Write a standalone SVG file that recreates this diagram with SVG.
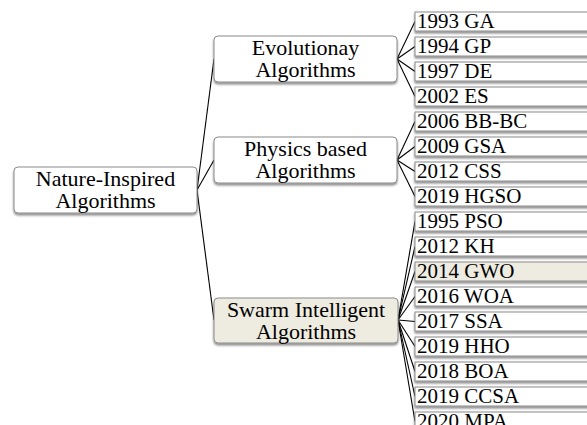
<svg xmlns="http://www.w3.org/2000/svg" width="587" height="425" viewBox="0 0 587 425">
<defs>
<filter id="sh" x="-10%" y="-20%" width="120%" height="160%">
<feDropShadow dx="0" dy="2" stdDeviation="1.2" flood-color="#000" flood-opacity="0.45"/>
</filter>
</defs>
<style>
.node rect{fill:#fff;stroke:#8a8a8a;stroke-width:1;filter:url(#sh)}
.node.hl rect{fill:#eeece1}
.mid text{font-family:"Liberation Serif",serif;font-size:22px;fill:#000;text-anchor:middle}
.leaf text{font-family:"Liberation Serif",serif;font-size:21px;fill:#000}
.conn line{stroke:#000;stroke-width:1.1;fill:none}
</style>
<rect width="587" height="425" fill="#fff"/>
<g id="connectors" class="conn">
<line x1="197" y1="190" x2="214" y2="59"/>
<line x1="197" y1="190" x2="214" y2="160"/>
<line x1="197" y1="190" x2="214" y2="320"/>
<line x1="397" y1="59" x2="415" y2="21.5"/>
<line x1="397" y1="59" x2="415" y2="46.5"/>
<line x1="397" y1="59" x2="415" y2="71.5"/>
<line x1="397" y1="59" x2="415" y2="96.5"/>
<line x1="397" y1="160" x2="415" y2="121.5"/>
<line x1="397" y1="160" x2="415" y2="146.5"/>
<line x1="397" y1="160" x2="415" y2="171.5"/>
<line x1="397" y1="160" x2="415" y2="196.5"/>
<line x1="398" y1="320" x2="415" y2="221.5"/>
<line x1="398" y1="320" x2="415" y2="246.5"/>
<line x1="398" y1="320" x2="415" y2="271.5"/>
<line x1="398" y1="320" x2="415" y2="296.5"/>
<line x1="398" y1="320" x2="415" y2="321.5"/>
<line x1="398" y1="320" x2="415" y2="346.5"/>
<line x1="398" y1="320" x2="415" y2="371.5"/>
<line x1="398" y1="320" x2="415" y2="396.5"/>
<line x1="398" y1="320" x2="415" y2="421.5"/>
</g>
<g id="root" class="node mid"><rect x="14" y="167" width="183" height="46" rx="4"/><text x="105.5" y="186">Nature-Inspired</text><text x="105.5" y="208">Algorithms</text></g>
<g id="evo" class="node mid"><rect x="214" y="36" width="183" height="46" rx="4"/><text x="305.5" y="55">Evolutionay</text><text x="305.5" y="77">Algorithms</text></g>
<g id="phys" class="node mid"><rect x="214" y="137" width="183" height="46" rx="4"/><text x="305.5" y="156">Physics based</text><text x="305.5" y="178">Algorithms</text></g>
<g id="swarm" class="node mid hl"><rect x="214" y="298" width="184" height="45" rx="4"/><text x="306" y="317">Swarm Intelligent</text><text x="306" y="339">Algorithms</text></g>
<g id="l1" class="node leaf"><rect x="415" y="12" width="200" height="19"/><text x="417" y="28">1993 GA</text></g>
<g id="l2" class="node leaf"><rect x="415" y="37" width="200" height="19"/><text x="417" y="53">1994 GP</text></g>
<g id="l3" class="node leaf"><rect x="415" y="62" width="200" height="19"/><text x="417" y="78">1997 DE</text></g>
<g id="l4" class="node leaf"><rect x="415" y="87" width="200" height="19"/><text x="417" y="103">2002 ES</text></g>
<g id="l5" class="node leaf"><rect x="415" y="112" width="200" height="19"/><text x="417" y="128">2006 BB-BC</text></g>
<g id="l6" class="node leaf"><rect x="415" y="137" width="200" height="19"/><text x="417" y="153">2009 GSA</text></g>
<g id="l7" class="node leaf"><rect x="415" y="162" width="200" height="19"/><text x="417" y="178">2012 CSS</text></g>
<g id="l8" class="node leaf"><rect x="415" y="187" width="200" height="19"/><text x="417" y="203">2019 HGSO</text></g>
<g id="l9" class="node leaf"><rect x="415" y="212" width="200" height="19"/><text x="417" y="228">1995 PSO</text></g>
<g id="l10" class="node leaf"><rect x="415" y="237" width="200" height="19"/><text x="417" y="253">2012 KH</text></g>
<g id="l11" class="node leaf hl"><rect x="415" y="262" width="200" height="19"/><text x="417" y="278">2014 GWO</text></g>
<g id="l12" class="node leaf"><rect x="415" y="287" width="200" height="19"/><text x="417" y="303">2016 WOA</text></g>
<g id="l13" class="node leaf"><rect x="415" y="312" width="200" height="19"/><text x="417" y="328">2017 SSA</text></g>
<g id="l14" class="node leaf"><rect x="415" y="337" width="200" height="19"/><text x="417" y="353">2019 HHO</text></g>
<g id="l15" class="node leaf"><rect x="415" y="362" width="200" height="19"/><text x="417" y="378">2018 BOA</text></g>
<g id="l16" class="node leaf"><rect x="415" y="387" width="200" height="19"/><text x="417" y="403">2019 CCSA</text></g>
<g id="l17" class="node leaf"><rect x="415" y="412" width="200" height="19"/><text x="417" y="428">2020 MPA</text></g>
</svg>
